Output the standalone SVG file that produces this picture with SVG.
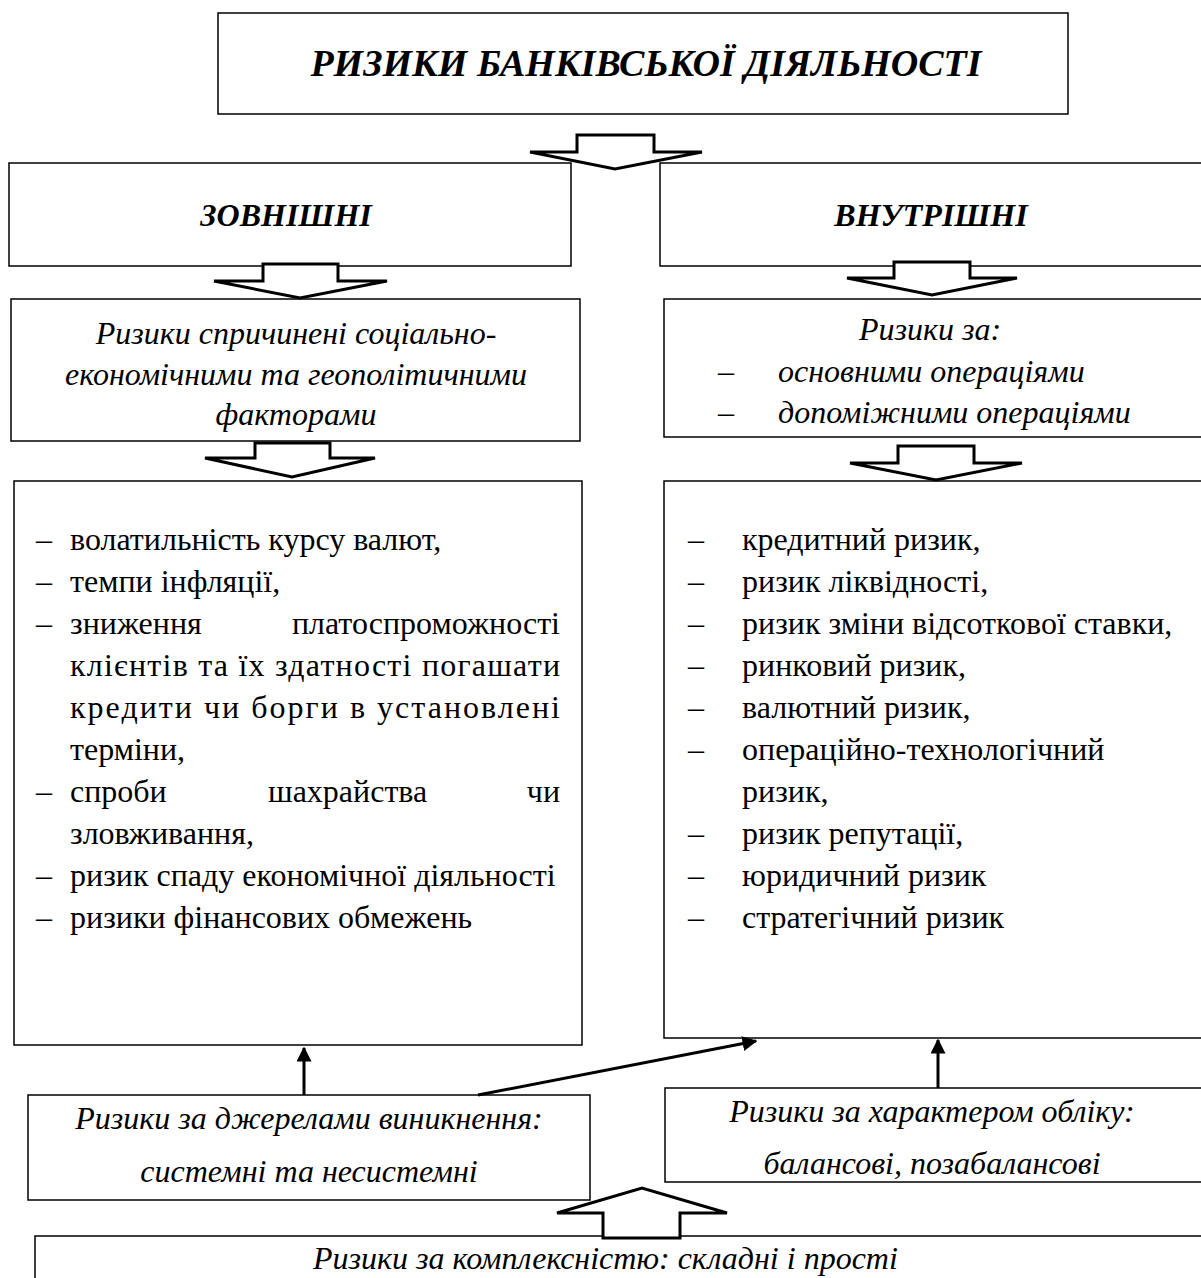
<svg xmlns="http://www.w3.org/2000/svg" width="1201" height="1278" viewBox="0 0 1201 1278">
<defs>
<style>
.box{fill:#fff;stroke:#000;stroke-width:1.5}
.big{fill:#fff;stroke:#000;stroke-width:3;stroke-linejoin:miter}
.t{font-family:"Liberation Serif","Times New Roman",serif;fill:#000}
.ti{font-family:"Liberation Serif","Times New Roman",serif;font-style:italic;fill:#000;font-size:32px}
.tl{font-family:"Liberation Serif","Times New Roman",serif;fill:#000;font-size:32px}
.line{stroke:#000;stroke-width:3;fill:none}
</style>
<marker id="ah" viewBox="0 0 10 10" refX="9" refY="5" markerWidth="5" markerHeight="5" markerUnits="strokeWidth" orient="auto">
<path d="M0,0 L10,5 L0,10 z" fill="#000"/>
</marker>
</defs>
<rect width="1201" height="1278" fill="#fff"/>

<g id="title">
<rect class="box" x="218" y="13" width="850" height="101"/>
<text class="t" x="646" y="76" text-anchor="middle" font-size="38" font-weight="bold" font-style="italic">РИЗИКИ БАНКІВСЬКОЇ ДІЯЛЬНОСТІ</text>
</g>

<g id="external">
<rect class="box" x="9" y="163" width="562" height="103"/>
<text class="t" x="286" y="226" text-anchor="middle" font-size="32" font-weight="bold" font-style="italic">ЗОВНІШНІ</text>
</g>

<g id="internal">
<rect class="box" x="660" y="163" width="545" height="103"/>
<text class="t" x="931" y="226" text-anchor="middle" font-size="32" font-weight="bold" font-style="italic">ВНУТРІШНІ</text>
</g>

<g id="external-factors">
<rect class="box" x="11" y="299" width="569" height="142"/>
<text class="ti" x="296" y="344" text-anchor="middle">Ризики спричинені соціально-</text>
<text class="ti" x="296" y="385" text-anchor="middle">економічними та геополітичними</text>
<text class="ti" x="296" y="425" text-anchor="middle">факторами</text>
</g>

<g id="internal-operations">
<rect class="box" x="664" y="299" width="541" height="138"/>
<text class="ti" x="930" y="340" text-anchor="middle">Ризики за:</text>
<text class="ti" x="718" y="382">–</text>
<text class="ti" x="778" y="382">основними операціями</text>
<text class="ti" x="718" y="423">–</text>
<text class="ti" x="778" y="423">допоміжними операціями</text>
</g>

<g id="external-list">
<rect class="box" x="14" y="481" width="568" height="564"/>
<g class="tl">
<text x="36" y="550">–</text><text x="70" y="550">волатильність курсу валют,</text>
<text x="36" y="592">–</text><text x="70" y="592">темпи інфляції,</text>
<text x="36" y="634">–</text><text x="70" y="634">зниження</text><text x="560" y="634" text-anchor="end">платоспроможності</text>
<text x="70" y="676" textLength="490" lengthAdjust="spacing">клієнтів та їх здатності погашати</text>
<text x="70" y="718" textLength="490" lengthAdjust="spacing">кредити чи борги в установлені</text>
<text x="70" y="760">терміни,</text>
<text x="36" y="802">–</text><text x="70" y="802">спроби</text><text x="268" y="802">шахрайства</text><text x="560" y="802" text-anchor="end">чи</text>
<text x="70" y="844">зловживання,</text>
<text x="36" y="886">–</text><text x="70" y="886">ризик спаду економічної діяльності</text>
<text x="36" y="928">–</text><text x="70" y="928">ризики фінансових обмежень</text>
</g>
</g>

<g id="internal-list">
<rect class="box" x="664" y="481" width="541" height="557"/>
<g class="tl">
<text x="688" y="550">–</text><text x="742" y="550">кредитний ризик,</text>
<text x="688" y="592">–</text><text x="742" y="592">ризик ліквідності,</text>
<text x="688" y="634">–</text><text x="742" y="634">ризик зміни відсоткової ставки,</text>
<text x="688" y="676">–</text><text x="742" y="676">ринковий ризик,</text>
<text x="688" y="718">–</text><text x="742" y="718">валютний ризик,</text>
<text x="688" y="760">–</text><text x="742" y="760">операційно-технологічний</text>
<text x="742" y="802">ризик,</text>
<text x="688" y="844">–</text><text x="742" y="844">ризик репутації,</text>
<text x="688" y="886">–</text><text x="742" y="886">юридичний ризик</text>
<text x="688" y="928">–</text><text x="742" y="928">стратегічний ризик</text>
</g>
</g>

<g id="sources">
<rect class="box" x="28" y="1095" width="562" height="105"/>
<text class="ti" x="309" y="1129" text-anchor="middle">Ризики за джерелами виникнення:</text>
<text class="ti" x="309" y="1182" text-anchor="middle">системні та несистемні</text>
</g>

<g id="accounting">
<rect class="box" x="665" y="1088" width="540" height="94"/>
<text class="ti" x="932" y="1122" text-anchor="middle">Ризики за характером обліку:</text>
<text class="ti" x="932" y="1174" text-anchor="middle">балансові, позабалансові</text>
</g>

<g id="complexity">
<rect class="box" x="35" y="1236" width="1170" height="60"/>
<text class="ti" x="313" y="1269" font-size="35">Ризики за комплексністю: складні і прості</text>
</g>

<g id="connectors">
<polygon class="big" points="577,135 654,135 654,152 702,152 615,169 530,152 577,152"/>
<polygon class="big" points="263,264 338,264 338,281 387,281 300,298 214,281 263,281"/>
<polygon class="big" points="894,262 970,262 970,278 1017,278 932,295 847,278 894,278"/>
<polygon class="big" points="255,443 330,443 330,458 375,458 292,477 205,458 255,458"/>
<polygon class="big" points="898,446 974,446 974,463 1022,463 936,480 850,463 898,463"/>
<polygon class="big" points="603,1238 680,1238 680,1213 727,1213 642,1188 557,1213 603,1213"/>
<line class="line" x1="304" y1="1095" x2="304" y2="1048" marker-end="url(#ah)"/>
<line class="line" x1="478" y1="1095" x2="756" y2="1041" marker-end="url(#ah)"/>
<line class="line" x1="938" y1="1088" x2="938" y2="1040" marker-end="url(#ah)"/>
</g>
</svg>
